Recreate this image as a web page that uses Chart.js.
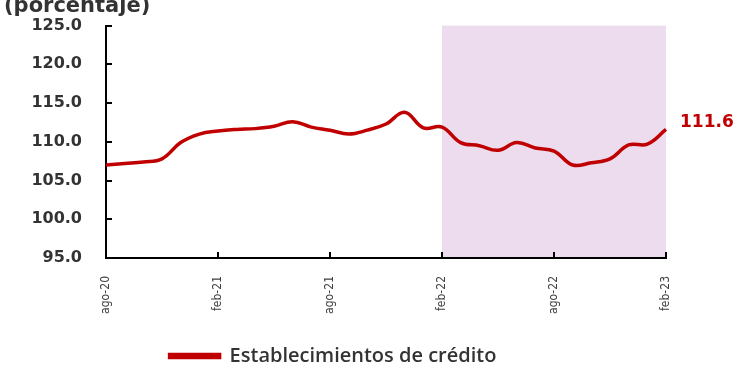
<!DOCTYPE html>
<html>
<head>
<meta charset="utf-8">
<script src="https://cdn.jsdelivr.net/npm/chart.js@4.4.1/dist/chart.umd.min.js"></script>
<style>
  html, body { margin: 0; padding: 0; background: #fff; }
</style>
</head>
<body>
<canvas id="creditChart" width="745" height="382"></canvas>
<script>
// Meses (ago-20 a feb-23)
var meses = [
  'ago-20', 'sep-20', 'oct-20', 'nov-20', 'dic-20', 'ene-21', 'feb-21', 'mar-21',
  'abr-21', 'may-21', 'jun-21', 'jul-21', 'ago-21', 'sep-21', 'oct-21', 'nov-21',
  'dic-21', 'ene-22', 'feb-22', 'mar-22', 'abr-22', 'may-22', 'jun-22', 'jul-22',
  'ago-22', 'sep-22', 'oct-22', 'nov-22', 'dic-22', 'ene-23', 'feb-23'
];

// Establecimientos de crédito (porcentaje)
var establecimientos = [
  107.0, 107.2, 107.4, 107.8, 109.9, 111.0, 111.4, 111.6,
  111.7, 112.0, 112.6, 111.9, 111.5, 111.0, 111.5, 112.3,
  113.8, 111.8, 111.9, 109.9, 109.5, 108.9, 109.9, 109.2,
  108.8, 107.0, 107.3, 107.8, 109.6, 109.7, 111.6
];

// Etiquetas visibles del eje x y del eje y
var etiquetasX = ['ago-20', 'feb-21', 'ago-21', 'feb-22', 'ago-22', 'feb-23'];
var ticksY = [95, 100, 105, 110, 115, 120, 125];

// Zona sombreada
var sombraDesde = 'feb-22';
var sombraHasta = 'feb-23';

var rojo = '#c00000';

// Plugin: sombreado, marcas internas y textos
var extras = {
  id: 'extras',
  beforeDraw: function (chart) {
    var c = chart.ctx, a = chart.chartArea, x = chart.scales.x;
    var x0 = x.getPixelForValue(meses.indexOf(sombraDesde));
    var x1 = x.getPixelForValue(meses.indexOf(sombraHasta));
    c.save();
    c.fillStyle = '#ecdcee';
    c.fillRect(x0, a.top, x1 - x0, a.bottom - a.top);
    c.restore();
  },
  afterDraw: function (chart) {
    var c = chart.ctx, a = chart.chartArea, x = chart.scales.x, y = chart.scales.y;
    c.save();
    c.strokeStyle = '#000';
    c.lineWidth = 2;
    // marcas del eje y hacia dentro
    ticksY.forEach(function (v) {
      var py = Math.round(y.getPixelForValue(v));
      c.beginPath();
      c.moveTo(a.left, py);
      c.lineTo(a.left + 6, py);
      c.stroke();
    });
    // marcas del eje x hacia dentro
    etiquetasX.forEach(function (m) {
      var px = Math.round(x.getPixelForValue(meses.indexOf(m)));
      c.beginPath();
      c.moveTo(px, a.bottom);
      c.lineTo(px, a.bottom - 6);
      c.stroke();
    });
    // título del eje
    c.fillStyle = '#333';
    c.font = 'bold 21px "DejaVu Sans"';
    c.textBaseline = 'middle';
    c.textAlign = 'left';
    c.fillText('(porcentaje)', 4, 7);
    // último valor
    var ult = establecimientos.length - 1;
    c.fillStyle = rojo;
    c.font = 'bold 17px "DejaVu Sans"';
    c.fillText(establecimientos[ult].toFixed(1), 680, y.getPixelForValue(112.5));
    c.restore();
  }
};

var ctx = document.getElementById('creditChart').getContext('2d');

var creditChart = new Chart(ctx, {
  type: 'line',
  data: {
    labels: meses,
    datasets: [{
      label: 'Establecimientos de crédito',
      data: establecimientos,
      borderColor: rojo,
      backgroundColor: rojo,
      borderWidth: 3.5,
      pointRadius: 0,
      tension: 0.4,
      fill: false
    }]
  },
  options: {
    responsive: false,
    animation: false,
    layout: { padding: { top: 24, right: 79, left: 0, bottom: 6 } },
    plugins: {
      tooltip: { enabled: false },
      legend: {
        position: 'bottom',
        labels: {
          boxWidth: 50,
          boxHeight: 3,
          padding: 8,
          color: '#333',
          font: { family: 'Open Sans', size: 20, weight: '600' }
        }
      }
    },
    scales: {
      x: {
        offset: false,
        grid: { display: false },
        border: { display: true, color: '#000', width: 2 },
        afterFit: function (scale) { scale.height = 80; },
        ticks: {
          autoSkip: false,
          minRotation: 90,
          maxRotation: 90,
          padding: 10,
          color: '#404040',
          font: { family: '"Liberation Sans Narrow", "DejaVu Sans Condensed", sans-serif', size: 12 },
          callback: function (val, i) {
            var m = meses[i];
            return etiquetasX.indexOf(m) >= 0 ? m : null;
          }
        }
      },
      y: {
        min: ticksY[0],
        max: ticksY[ticksY.length - 1],
        grid: { display: false },
        border: { display: true, color: '#000', width: 2 },
        afterFit: function (scale) { scale.width = 106; },
        ticks: {
          stepSize: 5,
          padding: 16,
          color: '#333',
          font: { family: 'DejaVu Sans', size: 16, weight: 'bold' },
          callback: function (v) { return v.toFixed(1); }
        }
      }
    }
  },
  plugins: [extras]
});
</script>
</body>
</html>
